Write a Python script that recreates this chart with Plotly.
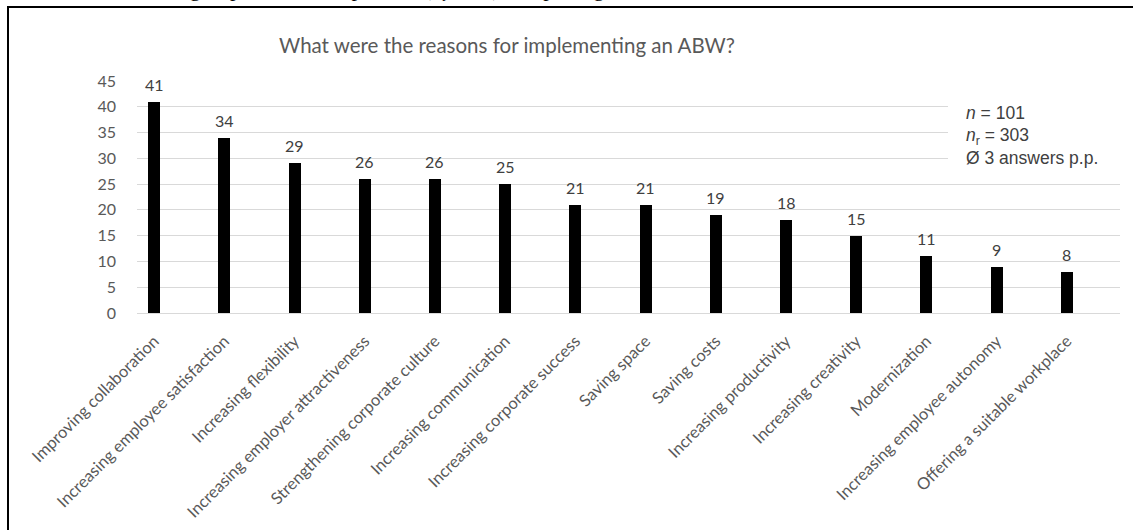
import plotly.graph_objects as go

# Reasons for implementing an activity-based workplace (ABW), number of mentions
reasons = [
    "Improving collaboration",
    "Increasing employee satisfaction",
    "Increasing flexibility",
    "Increasing employer attractiveness",
    "Strengthening corporate culture",
    "Increasing communication",
    "Increasing corporate success",
    "Saving space",
    "Saving costs",
    "Increasing productivity",
    "Increasing creativity",
    "Modernization",
    "Increasing employee autonomy",
    "Offering a suitable workplace",
]
mentions = [41, 34, 29, 26, 26, 25, 21, 21, 19, 18, 15, 11, 9, 8]
y_ticks = [0, 5, 10, 15, 20, 25, 30, 35, 40, 45]

title_text = "What were the reasons for implementing an ABW?"
stats_lines = ["<i>n</i> = 101", "<i>n</i><sub>r</sub> = 303", "Ø 3 answers p.p."]
caption_text = ("answers were grouped into 14 top codes (<i>n</i><sub>r</sub> = 14) "
                "comprising 30 associated sub-codes.")

W, H = 1133, 530
L, R, T, B = 137, 13, 81, 217
PW, PH = W - L - R, H - T - B


def px_x(px):
    return (px - L) / PW


def px_y(py):
    return (H - B - py) / PH


cat_px = PW / len(reasons)
bar_w = 12 / cat_px
bar_off = -24 / cat_px

GRAY = "#595959"
DARK = "#404040"
FONT = "Lato"

fig = go.Figure()
fig.add_trace(go.Bar(
    x=reasons,
    y=mentions,
    width=bar_w,
    offset=bar_off,
    marker=dict(color="black", line=dict(width=0)),
    hoverinfo="x+y",
))

annotations = []
# value labels above each bar
for r, v in zip(reasons, mentions):
    annotations.append(dict(
        x=r, y=v, xref="x", yref="y", text=str(v), showarrow=False,
        xanchor="center", yanchor="bottom", xshift=-18, yshift=6,
        font=dict(family=FONT, size=16, color=DARK),
    ))

# sample size box
for line, py in zip(stats_lines, [113, 136, 158]):
    annotations.append(dict(
        x=px_x(964), y=px_y(py), xref="paper", yref="paper", text=line,
        showarrow=False, xanchor="left", yanchor="middle",
        font=dict(family="Liberation Sans", size=17.5, color=DARK),
    ))

# chart title
annotations.append(dict(
    x=px_x(507), y=px_y(45), xref="paper", yref="paper", text=title_text,
    showarrow=False, xanchor="center", yanchor="middle",
    font=dict(family=FONT, size=20.5, color=GRAY),
))

# running text of the page above the chart frame
annotations.append(dict(
    x=px_x(828), y=px_y(5), xref="paper", yref="paper", text=caption_text,
    showarrow=False, xanchor="right", yanchor="bottom", borderpad=0,
    font=dict(family="Liberation Serif", size=22, color="black"),
))

shapes = [
    # white panel behind the sample size text
    dict(type="rect", xref="paper", yref="paper",
         x0=px_x(948), x1=px_x(1121), y0=px_y(172), y1=px_y(94),
         fillcolor="white", line=dict(width=0), layer="above"),
    # frame around the chart
    dict(type="line", xref="paper", yref="paper",
         x0=px_x(8), x1=px_x(8), y0=px_y(6), y1=px_y(540),
         line=dict(color="black", width=2)),
    dict(type="line", xref="paper", yref="paper",
         x0=px_x(7), x1=px_x(1140), y0=px_y(7), y1=px_y(7),
         line=dict(color="black", width=2)),
]

fig.update_layout(
    width=W, height=H,
    margin=dict(l=L, r=R, t=T, b=B, pad=0, autoexpand=False),
    paper_bgcolor="white", plot_bgcolor="white",
    showlegend=False,
    bargap=0,
    annotations=annotations,
    shapes=shapes,
    font=dict(family=FONT, size=16, color=GRAY),
)
fig.update_xaxes(
    type="category",
    automargin=False,
    tickangle=-45,
    tickfont=dict(family=FONT, size=16.5, color=GRAY),
    showline=True, linecolor="#d9d9d9", linewidth=1,
    showgrid=False, ticks="",
    ticklabelshift=-18, ticklabelstandoff=11,
)
fig.update_yaxes(
    range=[0, 45],
    automargin=False,
    tickvals=y_ticks,
    tickfont=dict(family=FONT, size=16, color=GRAY),
    showgrid=True, gridcolor="#d9d9d9", gridwidth=1,
    zeroline=True, zerolinecolor="#d9d9d9", zerolinewidth=1,
    showline=False, ticks="", ticklabelstandoff=20,
)

fig.write_html("out.html")
